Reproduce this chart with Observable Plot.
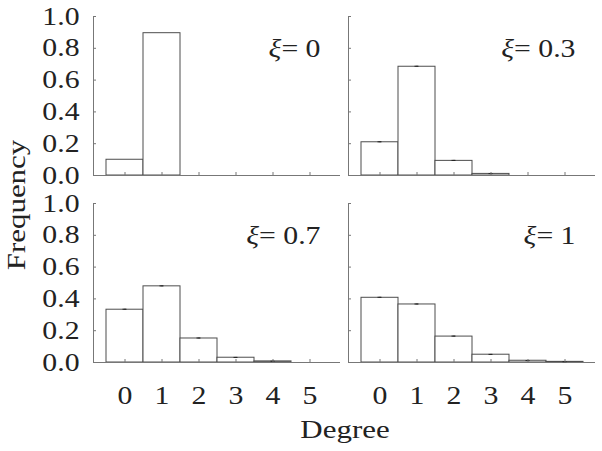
<!DOCTYPE html>
<html><head><meta charset="utf-8">
<script src="https://cdn.jsdelivr.net/npm/d3@7"></script>
<script src="https://cdn.jsdelivr.net/npm/@observablehq/plot@0.6"></script>
<style>body{margin:0;background:#fff}</style>
</head><body><div id="chart"></div>
<script>
// ---- data ----
const degrees = [0, 1, 2, 3, 4, 5];
const xiValues = ["0", "0.3", "0.7", "1"];
const panelCols = ["L", "R", "L", "R"];
const panelRows = ["T", "T", "B", "B"];
const freqXi0  = [0.099, 0.895, 0, 0, 0, 0];
const freqXi03 = [0.209, 0.684, 0.092, 0.010, 0, 0];
const freqXi07 = [0.332, 0.479, 0.151, 0.030, 0.007, 0];
const freqXi1  = [0.407, 0.365, 0.163, 0.049, 0.011, 0.004];
const errXi0  = [0, 0, 0, 0, 0, 0];
const errXi03 = [0.003, 0.003, 0.003, 0.002, 0, 0];
const errXi07 = [0.003, 0.003, 0.003, 0.002, 0.001, 0];
const errXi1  = [0.003, 0.003, 0.003, 0.002, 0.001, 0.001];
const yTicks = [0, 0.2, 0.4, 0.6, 0.8, 1.0];
const yTitle = "Frequency";
const xTitle = "Degree";

const freqs = [freqXi0, freqXi03, freqXi07, freqXi1];
const errs = [errXi0, errXi03, errXi07, errXi1];
const panels = xiValues.map((xi, i) => ({xi, col: panelCols[i], row: panelRows[i]}));
const rows = [];
panels.forEach((p, i) => degrees.forEach((d, j) =>
  rows.push({col: p.col, row: p.row, degree: d, freq: freqs[i][j], err: errs[i][j]})));

const axisColor = "#777";
const barColor = "#4d4d4d";
const textColor = "#222";

const chart = Plot.plot({
  width: 602, height: 451,
  marginTop: 16, marginRight: 7, marginBottom: 89, marginLeft: 93,
  style: {fontFamily: "'Liberation Serif', 'Times New Roman', serif", fontSize: "25px", color: textColor, background: "#fff"},
  fx: {domain: ["L", "R"], paddingInner: 0.0314, paddingOuter: 0, axis: null},
  fy: {domain: ["T", "B"], paddingInner: 0.15, paddingOuter: 0, axis: null},
  x: {type: "band", domain: degrees, paddingInner: 0, paddingOuter: 0.3},
  y: {domain: [0, 1]},
  marks: [
    Plot.barY(rows.filter(d => d.freq > 0), {fx: "col", fy: "row", x: "degree", y: "freq", fill: "white", stroke: barColor, strokeWidth: 1}),
    Plot.frame({anchor: "left", stroke: axisColor}),
    Plot.ruleY([0], {stroke: axisColor}),
    Plot.ruleX(rows.filter(d => d.err > 0), {fx: "col", fy: "row", x: "degree", y1: d => d.freq - d.err, y2: d => d.freq + d.err, stroke: "#222"}),
    Plot.tickY(rows.filter(d => d.err > 0), {fx: "col", fy: "row", x: "degree", y: d => d.freq + d.err, inset: 16.5, stroke: "#222"}),
    Plot.axisY({ticks: yTicks, tickSize: -3, tickFormat: () => "", facetAnchor: null, label: null, stroke: axisColor}),
    Plot.axisY({ticks: yTicks, tickSize: 0, tickPadding: 14, tickFormat: d3.format(".1f"), facetAnchor: "left", label: null, fontSize: 25, fill: textColor}),
    Plot.axisX({tickSize: -3, tickFormat: () => "", facetAnchor: null, label: null, stroke: axisColor}),
    Plot.axisX({tickSize: 0, tickPadding: 24, facetAnchor: "bottom", label: null, fontSize: 25, fill: textColor}),
    Plot.text(panels, {fx: "col", fy: "row", text: d => "ξ= " + d.xi, frameAnchor: "top-right", dx: -20, dy: 32, textAnchor: "end", lineAnchor: "middle", fontSize: 25, fill: textColor, className: "xi-label"})
  ]
});
document.getElementById("chart").appendChild(chart);

const svg = d3.select(chart);
// italic xi
svg.selectAll("text").each(function() {
  const t = this.textContent;
  if (t.startsWith("ξ")) {
    const el = d3.select(this);
    el.text(null);
    el.append("tspan").attr("font-style", "italic").text("ξ");
    el.append("tspan").text(t.slice(1));
  }
});
// axis titles
svg.append("text").attr("transform", "translate(25,205) rotate(-90)")
  .attr("text-anchor", "middle").attr("fill", textColor).attr("font-size", 26).text(yTitle);
svg.append("text").attr("x", 345).attr("y", 438)
  .attr("text-anchor", "middle").attr("fill", textColor).attr("font-size", 26).text(xTitle);
// wider glyph widths as in reference
svg.selectAll("text").each(function() {
  if (!this.textContent.trim()) return;
  const len = this.getComputedTextLength();
  if (len > 0) {
    this.setAttribute("textLength", (len * 1.19).toFixed(1));
    this.setAttribute("lengthAdjust", "spacingAndGlyphs");
  }
});
</script>
</body></html>
